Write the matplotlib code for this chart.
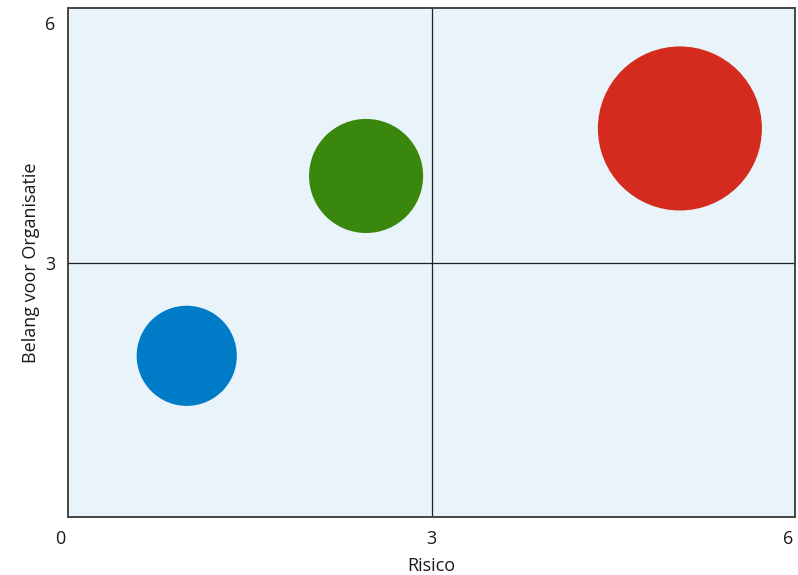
import matplotlib
matplotlib.use("Agg")
import matplotlib.pyplot as plt
import matplotlib.transforms as mtransforms

plt.rcParams['font.family'] = ['Open Sans', 'DejaVu Sans']

# risico (x), belang (y), bubble size and colour per item
risico = [0.98, 2.46, 5.05]
belang = [1.90, 4.02, 4.58]
grootte = [5200, 6750, 13950]
kleuren = ['#007bc7', '#39870c', '#d52b1e']

x_ticks = [0, 3, 6]
y_ticks = [3, 6]

fig = plt.figure(figsize=(7.98, 5.75), dpi=100)
ax = fig.add_axes([68 / 798, 58 / 575, 727 / 798, 509 / 575])
ax.set_facecolor('#e8f3fa')

ax.scatter(risico, belang, s=grootte, c=kleuren, edgecolors='none', zorder=3)

# quadrant lines
ax.axvline(3, color='#222222', lw=0.9, zorder=2)
ax.axhline(3, color='#222222', lw=0.9, zorder=2)

ax.set_xlim(0, 6)
ax.set_ylim(0, 6)
ax.set_xticks(x_ticks)
ax.set_xticklabels([str(t) for t in x_ticks])
ax.set_yticks(y_ticks)
ax.set_yticklabels([str(t) for t in y_ticks])
ax.tick_params(axis='both', length=0, labelsize=13, colors='#1a1a1a')
ax.tick_params(axis='x', pad=9)
ax.tick_params(axis='y', pad=9)

for spine in ax.spines.values():
    spine.set_color('#444444')
    spine.set_linewidth(1.4)

ax.set_xlabel('Risico', fontsize=13, color='#1a1a1a', labelpad=7)
ax.set_ylabel('Belang voor Organisatie', fontsize=13, color='#1a1a1a', labelpad=4)

# nudge the corner labels
xl = ax.get_xticklabels()
xl[0].set_transform(xl[0].get_transform() + mtransforms.ScaledTranslation(-8 / 100, 0, fig.dpi_scale_trans))
xl[2].set_transform(xl[2].get_transform() + mtransforms.ScaledTranslation(-7 / 100, 0, fig.dpi_scale_trans))
yl = ax.get_yticklabels()
yl[1].set_transform(yl[1].get_transform() + mtransforms.ScaledTranslation(0, -15 / 100, fig.dpi_scale_trans))

fig.savefig('out.png', dpi=100)
